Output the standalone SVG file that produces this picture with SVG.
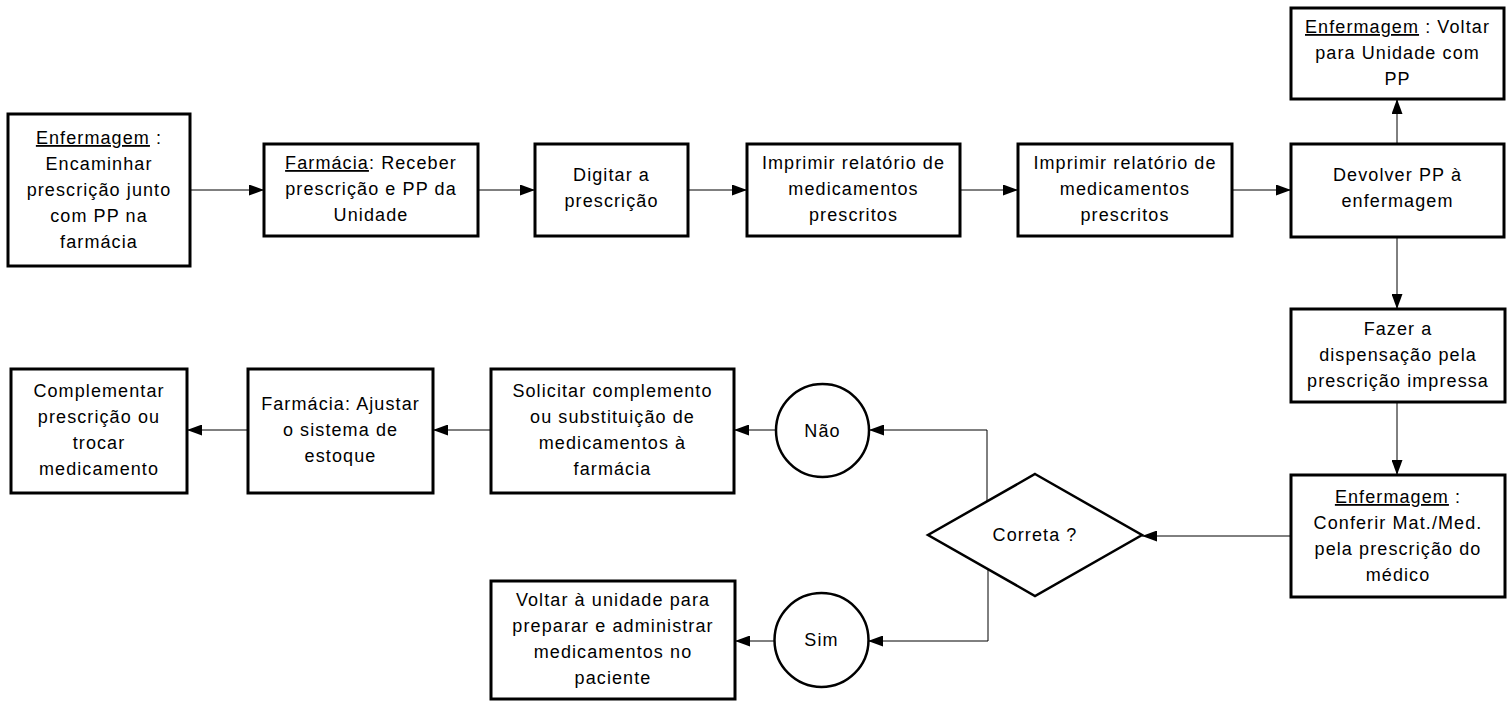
<svg xmlns="http://www.w3.org/2000/svg" width="1507" height="701" viewBox="0 0 1507 701">
<style>
.box{fill:#fff;stroke:#000;stroke-width:3}
.shape{fill:#fff;stroke:#000;stroke-width:2.5}
.conn{fill:none;stroke:#000;stroke-width:1}
text{font-family:"Liberation Sans",Arial,sans-serif;font-size:18px;letter-spacing:1.1px;fill:#000;text-anchor:middle}
.u{text-decoration:underline}
</style>
<defs>
<marker id="arr" viewBox="0 0 15 11" refX="15" refY="5.5" markerWidth="15" markerHeight="11" markerUnits="userSpaceOnUse" orient="auto">
<path d="M0,0 L15,5.5 L0,11 Z" fill="#000"/>
</marker>
</defs>
<rect width="1507" height="701" fill="#fff"/>
<g id="connectors">
<line class="conn" x1="190" y1="190" x2="264" y2="190" marker-end="url(#arr)"/>
<line class="conn" x1="478" y1="190" x2="535" y2="190" marker-end="url(#arr)"/>
<line class="conn" x1="688" y1="190" x2="747" y2="190" marker-end="url(#arr)"/>
<line class="conn" x1="960" y1="190" x2="1018" y2="190" marker-end="url(#arr)"/>
<line class="conn" x1="1232" y1="190" x2="1291" y2="190" marker-end="url(#arr)"/>
<line class="conn" x1="1397" y1="144" x2="1397" y2="99" marker-end="url(#arr)"/>
<line class="conn" x1="1397" y1="237" x2="1397" y2="309" marker-end="url(#arr)"/>
<line class="conn" x1="1397" y1="402" x2="1397" y2="475" marker-end="url(#arr)"/>
<line class="conn" x1="1291" y1="536" x2="1142" y2="536" marker-end="url(#arr)"/>
<polyline class="conn" points="987,501 987,430 869,430" marker-end="url(#arr)"/>
<polyline class="conn" points="988,569 988,641 868,641" marker-end="url(#arr)"/>
<line class="conn" x1="776" y1="430" x2="734" y2="430" marker-end="url(#arr)"/>
<line class="conn" x1="775" y1="641" x2="735" y2="641" marker-end="url(#arr)"/>
<line class="conn" x1="491" y1="430" x2="433" y2="430" marker-end="url(#arr)"/>
<line class="conn" x1="248" y1="430" x2="187" y2="430" marker-end="url(#arr)"/>
</g>
<g id="n1">
<rect class="box" x="8" y="114" width="182" height="152"/>
<text x="99" y="144"><tspan class="u">Enfermagem</tspan> :</text>
<text x="99" y="170">Encaminhar</text>
<text x="99" y="196">prescrição junto</text>
<text x="99" y="222">com PP na</text>
<text x="99" y="248">farmácia</text>
</g>
<g id="n2">
<rect class="box" x="264" y="144" width="214" height="92"/>
<text x="371" y="169"><tspan class="u">Farmácia</tspan>: Receber</text>
<text x="371" y="195">prescrição e PP da</text>
<text x="371" y="221">Unidade</text>
</g>
<g id="n3">
<rect class="box" x="535" y="144" width="153" height="92"/>
<text x="611.5" y="181">Digitar a</text>
<text x="611.5" y="207">prescrição</text>
</g>
<g id="n4">
<rect class="box" x="747" y="144" width="213" height="92"/>
<text x="853.5" y="169">Imprimir relatório de</text>
<text x="853.5" y="195">medicamentos</text>
<text x="853.5" y="221">prescritos</text>
</g>
<g id="n5">
<rect class="box" x="1018" y="144" width="214" height="92"/>
<text x="1125" y="169">Imprimir relatório de</text>
<text x="1125" y="195">medicamentos</text>
<text x="1125" y="221">prescritos</text>
</g>
<g id="n6">
<rect class="box" x="1291" y="144" width="213" height="93"/>
<text x="1397.5" y="181">Devolver PP à</text>
<text x="1397.5" y="207">enfermagem</text>
</g>
<g id="n7">
<rect class="box" x="1291" y="8" width="213" height="91"/>
<text x="1397.5" y="33"><tspan class="u">Enfermagem</tspan> : Voltar</text>
<text x="1397.5" y="59">para Unidade com</text>
<text x="1397.5" y="85">PP</text>
</g>
<g id="n8">
<rect class="box" x="1291" y="309" width="214" height="93"/>
<text x="1398" y="335">Fazer a</text>
<text x="1398" y="361">dispensação pela</text>
<text x="1398" y="387">prescrição impressa</text>
</g>
<g id="n9">
<rect class="box" x="1291" y="475" width="214" height="122"/>
<text x="1398" y="503"><tspan class="u">Enfermagem</tspan> :</text>
<text x="1398" y="529">Conferir Mat./Med.</text>
<text x="1398" y="555">pela prescrição do</text>
<text x="1398" y="581">médico</text>
</g>
<g id="decision">
<polygon class="shape" points="1035,474 1142,535 1035,596 928,535"/>
<text x="1035" y="541">Correta ?</text>
</g>
<g id="nao">
<circle class="shape" cx="822.5" cy="430.5" r="46.5"/>
<text x="822.5" y="436.5">Não</text>
</g>
<g id="sim">
<circle class="shape" cx="821.5" cy="640" r="47"/>
<text x="821.5" y="646">Sim</text>
</g>
<g id="n10">
<rect class="box" x="491" y="369" width="243" height="124"/>
<text x="612.5" y="397">Solicitar complemento</text>
<text x="612.5" y="423">ou substituição de</text>
<text x="612.5" y="449">medicamentos à</text>
<text x="612.5" y="475">farmácia</text>
</g>
<g id="n11">
<rect class="box" x="248" y="369" width="185" height="124"/>
<text x="340.5" y="410">Farmácia: Ajustar</text>
<text x="340.5" y="436">o sistema de</text>
<text x="340.5" y="462">estoque</text>
</g>
<g id="n12">
<rect class="box" x="11" y="369" width="176" height="124"/>
<text x="99" y="397">Complementar</text>
<text x="99" y="423">prescrição ou</text>
<text x="99" y="449">trocar</text>
<text x="99" y="475">medicamento</text>
</g>
<g id="n13">
<rect class="box" x="491" y="581" width="244" height="118"/>
<text x="613" y="606">Voltar à unidade para</text>
<text x="613" y="632">preparar e administrar</text>
<text x="613" y="658">medicamentos no</text>
<text x="613" y="684">paciente</text>
</g>
</svg>
